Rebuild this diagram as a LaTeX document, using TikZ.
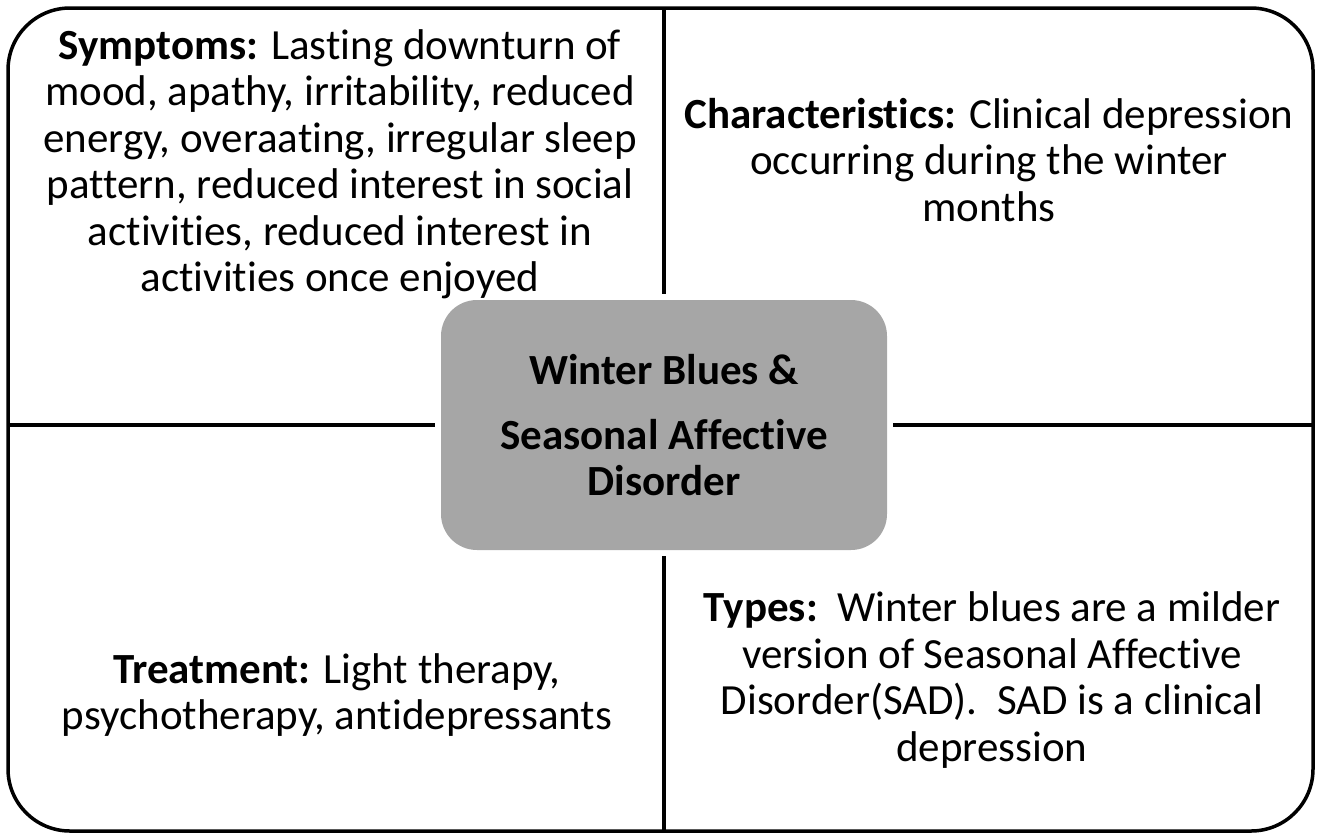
\documentclass[tikz,border=0pt]{standalone}
\usepackage{fontspec}
\setmainfont{Carlito}[Ligatures={NoCommon,TeX}]
\begin{document}
\begin{tikzpicture}[x=1pt,y=-1pt,
  frame/.style={draw=black,line width=3.5pt,rounded corners=62pt},
  divider/.style={draw=black,line width=3.5pt,shorten >=6pt},
  hubbox/.style={fill=hubgray,rounded corners=36pt,minimum width=446pt,minimum height=250pt,
    align=center,inner sep=0pt,font=\fontsize{43}{46.5}\selectfont\bfseries},
  panel/.style={align=center,inner sep=0pt,font=\fontsize{43}{46.5}\selectfont}]
\definecolor{hubgray}{HTML}{A6A6A6}
\useasboundingbox (0,0) rectangle (1320,839);

% outer rounded frame
\draw[frame] (8,8) rectangle (1313,831);

% anchor points of the dividers on the frame
\coordinate (ftop) at (664,8);
\coordinate (fbottom) at (664,831);
\coordinate (fleft) at (8,425);
\coordinate (fright) at (1313,425);

% central topic box
\node[hubbox] (hub) at (664,425) {Winter Blues \&\\[18.5pt]Seasonal Affective\\Disorder};

% quadrant dividers
\draw[divider] (ftop) -- (hub.north);
\draw[divider] (fbottom) -- (hub.south);
\draw[divider] (fleft) -- (hub.west);
\draw[divider] (fright) -- (hub.east);

% quadrant texts
\node[panel] (symptoms) at (340,164) {\textbf{Symptoms:} Lasting downturn of\\mood, apathy, irritability, reduced\\energy, overaating, irregular sleep\\pattern, reduced interest in social\\activities, reduced interest in\\activities once enjoyed};
\node[panel] (character) at (989,160) {\textbf{Characteristics:} Clinical depression\\occurring during the winter\\months};
\node[panel] (treatment) at (337,695) {\textbf{Treatment:} Light therapy,\\psychotherapy, antidepressants};
\node[panel] (types) at (992,680) {\textbf{Types:}\ \ Winter blues are a milder\\version of Seasonal Affective\\Disorder(SAD).\ \ SAD is a clinical\\depression};
\end{tikzpicture}
\end{document}
